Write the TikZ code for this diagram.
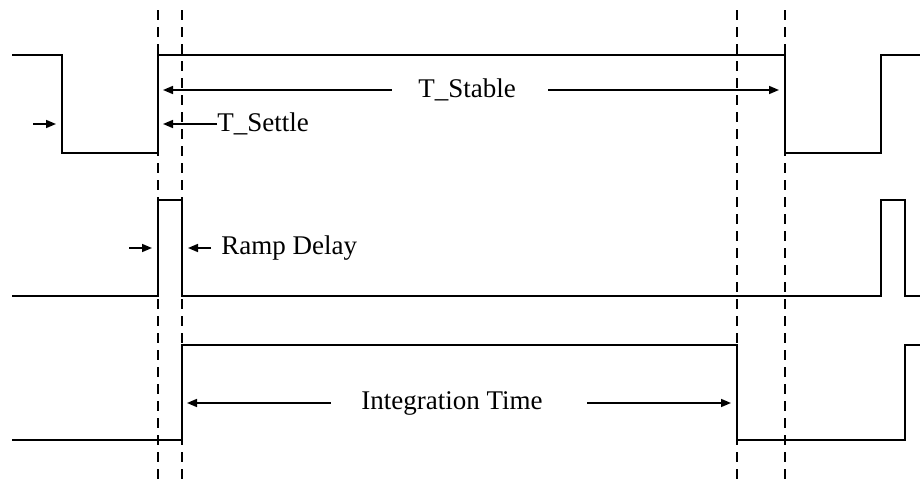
\documentclass[tikz,border=0pt]{standalone}
\usepackage{fontspec}
\setmainfont{Liberation Serif}
\usetikzlibrary{arrows.meta}

\begin{document}
\begin{tikzpicture}[
  x=0.5pt, y=-0.5pt,
  >={Triangle[length=5pt,width=4pt]},
  font=\fontsize{13.5}{16}\selectfont,
  sig/.style={line width=0.8pt},
  guide/.style={line width=0.8pt, dash pattern=on 5pt off 3.5pt},
  dim/.style={->, line width=0.8pt},
  lbl/.style={inner sep=0pt}
]
  \useasboundingbox (0,0) rectangle (920,482);

  % timing edges
  \foreach \xe in {158,182,737,785}
    \draw[guide] (\xe,10) -- (\xe,482);

  % the three signals
  \draw[sig] (12,55) -| (62,153) -| (158,55) -| (785,153) -| (881,55) -- (920,55);
  \draw[sig] (12,296) -| (158,200) -| (182,296) -| (881,200) -| (905,296) -- (920,296);
  \draw[sig] (12,440) -| (182,345) -| (737,440) -| (905,345) -- (920,345);

  % T_Stable
  \node[lbl] (stable) at (467,90) {T\_Stable};
  \coordinate (stableL) at (163,90);
  \coordinate (stableR) at (779,90);
  \draw[dim] ([xshift=-13pt]stable.west) -- (stableL);
  \draw[dim] ([xshift=16pt]stable.east) -- (stableR);

  % T_Settle
  \node[lbl, anchor=west] (settle) at (217,124) {T\_Settle};
  \coordinate (settleTip) at (163,124);
  \coordinate (settleIn) at (33,124);
  \coordinate (settleInTip) at (56,124);
  \draw[dim] (settle.west) -- (settleTip);
  \draw[dim] (settleIn) -- (settleInTip);

  % Ramp Delay
  \node[lbl, anchor=west] (ramp) at (221,248) {Ramp Delay};
  \coordinate (rampTip) at (188,248);
  \coordinate (rampIn) at (129,248);
  \coordinate (rampInTip) at (152,248);
  \draw[dim] ([xshift=-5pt]ramp.west) -- (rampTip);
  \draw[dim] (rampIn) -- (rampInTip);

  % Integration Time
  \node[lbl] (integ) at (452,403) {Integration Time};
  \coordinate (integL) at (187,403);
  \coordinate (integR) at (731,403);
  \draw[dim] ([xshift=-15pt]integ.west) -- (integL);
  \draw[dim] ([xshift=22pt]integ.east) -- (integR);
\end{tikzpicture}
\end{document}
